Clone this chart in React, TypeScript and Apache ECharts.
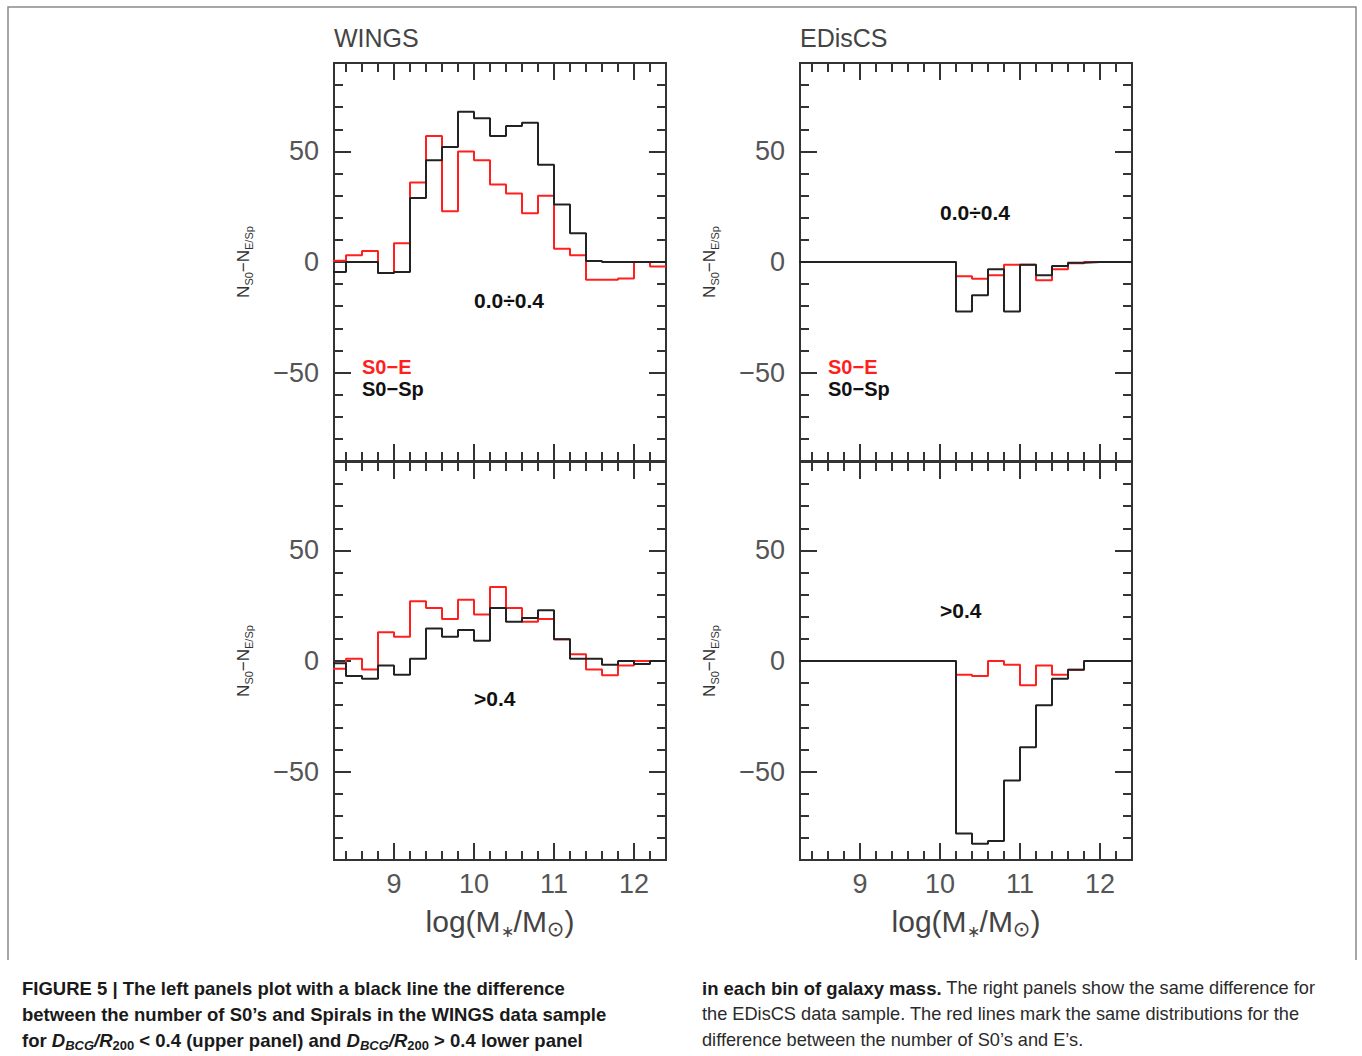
import React, { useEffect, useRef } from "react";
import * as echarts from "echarts";

// bin left edges (bin width 0.2), the last bin closes at binEnd
const binStarts = [8.2, 8.4, 8.6, 8.8, 9.0, 9.2, 9.4, 9.6, 9.8, 10.0, 10.2, 10.4, 10.6, 10.8, 11.0, 11.2, 11.4, 11.6, 11.8, 12.0, 12.2];
const binEnd = 12.4;

// WINGS, D/R200 < 0.4
const wingsInnerSp = [-4.5, 0, 0, -5, -4.5, 29, 46, 52, 68, 65, 57, 61.5, 63, 44, 26, 13, 0.5, 0, 0, 0, 0];
const wingsInnerE = [0.6, 3, 5, -5, 8.5, 36, 57, 23, 50, 46, 35, 31, 22, 30, 6, 3, -8, -8, -7.5, 0, -2];
// WINGS, D/R200 > 0.4
const wingsOuterSp = [-1, -6.8, -8, -2, -6.2, 1, 14.7, 11, 14, 9.2, 24, 17.7, 19.5, 23, 9.8, 1, 1, -1.7, 0, -1.4, 0];
const wingsOuterE = [-3.5, 1, -3.8, 13, 11, 27, 24, 19, 27.7, 21, 33.5, 24, 17.7, 19, 9.8, 3, -3.8, -6.5, -2, 0, 0];
// EDisCS, D/R200 < 0.4
const edisInnerSp = [0, 0, 0, 0, 0, 0, 0, 0, 0, 0, -22.4, -15, -3.3, -22.4, -1.2, -6, -1.8, -0.3, 0, 0, 0];
const edisInnerE = [0, 0, 0, 0, 0, 0, 0, 0, 0, 0, -6.4, -7.6, -6, -1.2, -1.2, -8.2, -3.3, -0.6, 0, 0, 0];
// EDisCS, D/R200 > 0.4
const edisOuterSp = [0, 0, 0, 0, 0, 0, 0, 0, 0, 0, -78, -82.6, -81.4, -54, -39, -20, -8, -4, 0, 0, 0];
const edisOuterE = [0, 0, 0, 0, 0, 0, 0, 0, 0, 0, -6.2, -6.8, 0, -1.7, -11, -2, -6.2, -4, 0, 0, 0];

const xMajorTicks = [9, 10, 11, 12];
const xMinorTicks = [8.4, 8.6, 8.8, 9.2, 9.4, 9.6, 9.8, 10.2, 10.4, 10.6, 10.8, 11.2, 11.4, 11.6, 11.8, 12.2];
const yMajorTicks = [-50, 0, 50];
const yMinorTicks = [-80, -70, -60, -40, -30, -20, -10, 10, 20, 30, 40, 60, 70, 80];

const INK = "#333";
const RED = "#ff1f1f";
const FONT = "Liberation Sans, Arial, Helvetica, sans-serif";

const panels = [
  { left: 334, top: 63, sp: wingsInnerSp, e: wingsInnerE, labels: false },
  { left: 334, top: 462, sp: wingsOuterSp, e: wingsOuterE, labels: true },
  { left: 800, top: 63, sp: edisInnerSp, e: edisInnerE, labels: false },
  { left: 800, top: 462, sp: edisOuterSp, e: edisOuterE, labels: true },
];

const stepData = (vals: number[]) => [
  ...binStarts.map((x, i) => [x, vals[i]]),
  [binEnd, vals[vals.length - 1]],
];

const tickStyle = { color: INK, width: 2 };

const xAxisDef = (grid: number, position: string, ticks: number[], len: number, labels: boolean) => ({
  type: "value",
  gridIndex: grid,
  position,
  min: 8.25,
  max: 12.4,
  axisLine: { show: false, onZero: false },
  splitLine: { show: false },
  axisTick: { show: true, inside: true, length: len, customValues: ticks, lineStyle: tickStyle },
  axisLabel: labels
    ? { show: true, customValues: xMajorTicks, margin: 10, fontSize: 27, color: "#555", fontFamily: FONT }
    : { show: false },
});

const yAxisDef = (grid: number, position: string, ticks: number[], len: number, labels: boolean) => ({
  type: "value",
  gridIndex: grid,
  position,
  min: -90,
  max: 90,
  axisLine: { show: false, onZero: false },
  splitLine: { show: false },
  axisTick: { show: true, inside: true, length: len, customValues: ticks, lineStyle: tickStyle },
  axisLabel: labels
    ? {
        show: true,
        customValues: yMajorTicks,
        margin: 15,
        fontSize: 27,
        color: "#555",
        fontFamily: FONT,
        formatter: (v: number) => (v < 0 ? "\u2212" + -v : String(v)),
      }
    : { show: false },
});

const txt = (x: number, y: number, text: string, extra: any = {}) => ({
  type: "text",
  x,
  y,
  silent: true,
  style: { text, fontFamily: FONT, fill: INK, verticalAlign: "middle", ...extra },
});

const yLabel = (x: number, y: number) => ({
  type: "text",
  x,
  y,
  rotation: Math.PI / 2,
  silent: true,
  style: {
    text: "{n|N}{s|S0}{n|\u2212N}{s|E/Sp}",
    align: "center",
    verticalAlign: "middle",
    fontFamily: FONT,
    fill: INK,
    rich: {
      n: { fontSize: 17, lineHeight: 22, verticalAlign: "middle", fontFamily: FONT, fill: INK },
      s: { fontSize: 11, lineHeight: 11, verticalAlign: "bottom", fontFamily: FONT, fill: INK },
    },
  },
});

const xTitle = (x: number, y: number) => ({
  type: "text",
  x,
  y,
  silent: true,
  style: {
    text: "{m|log(M}{s|\u2217}{m|/M}{sun|\u2299}{m|)}",
    align: "center",
    verticalAlign: "middle",
    fontFamily: FONT,
    fill: "#444",
    rich: {
      m: { fontSize: 30, lineHeight: 36, verticalAlign: "middle", fontFamily: FONT, fill: "#444" },
      s: { fontSize: 16, lineHeight: 16, verticalAlign: "bottom", fontFamily: FONT, fill: "#444" },
      sun: { fontSize: 21, lineHeight: 19, verticalAlign: "bottom", fontFamily: "DejaVu Sans", fill: "#444" },
    },
  },
});

const capRich = {
  b: { fontSize: 18.5, fontWeight: "bold", lineHeight: 24, verticalAlign: "middle", fontFamily: FONT, fill: "#1a1a1a" },
  r: { fontSize: 18.2, fontWeight: "normal", lineHeight: 24, verticalAlign: "middle", fontFamily: FONT, fill: "#2a2a2a" },
  bi: { fontSize: 18.5, fontWeight: "bold", fontStyle: "italic", lineHeight: 24, verticalAlign: "middle", fontFamily: FONT, fill: "#1a1a1a" },
  bis: { fontSize: 13, fontWeight: "bold", fontStyle: "italic", lineHeight: 13, verticalAlign: "bottom", fontFamily: FONT, fill: "#1a1a1a" },
  bs: { fontSize: 13, fontWeight: "bold", lineHeight: 13, verticalAlign: "bottom", fontFamily: FONT, fill: "#1a1a1a" },
};

const capLine = (x: number, y: number, text: string) => ({
  type: "text",
  x,
  y,
  silent: true,
  style: { text, verticalAlign: "middle", fontFamily: FONT, fill: "#1a1a1a", rich: capRich },
});

const App: React.FC = () => {
  const chartRef = useRef<HTMLDivElement>(null);

  useEffect(() => {
    const chart = echarts.init(chartRef.current, null, { renderer: "svg" });

    const grids: any[] = [];
    const xAxes: any[] = [];
    const yAxes: any[] = [];
    const series: any[] = [];

    panels.forEach((p, i) => {
      grids.push({
        left: p.left,
        top: p.top,
        width: 332,
        height: 398,
        show: true,
        borderColor: INK,
        borderWidth: 2,
        backgroundColor: "transparent",
      });
      xAxes.push(
        xAxisDef(i, "bottom", xMajorTicks, 17, p.labels),
        xAxisDef(i, "bottom", xMinorTicks, 9, false),
        xAxisDef(i, "top", xMajorTicks, 17, false),
        xAxisDef(i, "top", xMinorTicks, 9, false)
      );
      yAxes.push(
        yAxisDef(i, "left", yMajorTicks, 17, true),
        yAxisDef(i, "left", yMinorTicks, 9, false),
        yAxisDef(i, "right", yMajorTicks, 17, false),
        yAxisDef(i, "right", yMinorTicks, 9, false)
      );
      series.push(
        {
          name: "S0-E",
          type: "line",
          step: "end",
          xAxisIndex: i * 4,
          yAxisIndex: i * 4,
          data: stepData(p.e),
          showSymbol: false,
          silent: true,
          z: 2,
          lineStyle: { color: RED, width: 2 },
          itemStyle: { color: RED },
        },
        {
          name: "S0-Sp",
          type: "line",
          step: "end",
          xAxisIndex: i * 4,
          yAxisIndex: i * 4,
          data: stepData(p.sp),
          showSymbol: false,
          silent: true,
          z: 3,
          lineStyle: { color: "#222", width: 2 },
          itemStyle: { color: "#222" },
        }
      );
    });

    const graphic: any[] = [
      {
        type: "polyline",
        silent: true,
        shape: { points: [[8, 960], [8, 7], [1356, 7], [1356, 960]] },
        style: { stroke: "#8a8a8a", lineWidth: 1.5, fill: "none" },
      },
      txt(334, 38, "WINGS", { fontSize: 25, fill: "#444" }),
      txt(800, 38, "EDisCS", { fontSize: 25, fill: "#444" }),
      yLabel(243, 262),
      yLabel(243, 661),
      yLabel(709, 262),
      yLabel(709, 661),
      xTitle(500, 921),
      xTitle(966, 921),
      txt(474, 300, "0.0\u00f70.4", { fontSize: 21, fontWeight: "bold", fill: "#111" }),
      txt(940, 212, "0.0\u00f70.4", { fontSize: 21, fontWeight: "bold", fill: "#111" }),
      txt(474, 698, ">0.4", { fontSize: 21, fontWeight: "bold", fill: "#111" }),
      txt(940, 610, ">0.4", { fontSize: 21, fontWeight: "bold", fill: "#111" }),
      txt(362, 367, "S0\u2212E", { fontSize: 20, fontWeight: "bold", fill: RED }),
      txt(362, 389, "S0\u2212Sp", { fontSize: 20, fontWeight: "bold", fill: "#111" }),
      txt(828, 367, "S0\u2212E", { fontSize: 20, fontWeight: "bold", fill: RED }),
      txt(828, 389, "S0\u2212Sp", { fontSize: 20, fontWeight: "bold", fill: "#111" }),
      capLine(22, 988, "{b|FIGURE 5 | The left panels plot with a black line the difference}"),
      capLine(22, 1014, "{b|between the number of S0\u2019s and Spirals in the WINGS data sample}"),
      capLine(
        22,
        1040,
        "{b|for }{bi|D}{bis|BCG}{bi|/R}{bs|200}{b| < 0.4 (upper panel) and }{bi|D}{bis|BCG}{bi|/R}{bs|200}{b| > 0.4 lower panel}"
      ),
      capLine(702, 988, "{b|in each bin of galaxy mass.}{r| The right panels show the same difference for}"),
      capLine(702, 1014, "{r|the EDisCS data sample. The red lines mark the same distributions for the}"),
      capLine(702, 1040, "{r|difference between the number of S0\u2019s and E\u2019s.}"),
    ];

    chart.setOption({
      animation: false,
      backgroundColor: "#ffffff",
      grid: grids,
      xAxis: xAxes,
      yAxis: yAxes,
      series,
      graphic,
    } as any);

    return () => {
      chart.dispose();
    };
  }, []);

  return (
    <div
      ref={chartRef}
      style={{ position: "absolute", left: 0, top: 0, width: 1362, height: 1056 }}
    />
  );
};

export default App;
